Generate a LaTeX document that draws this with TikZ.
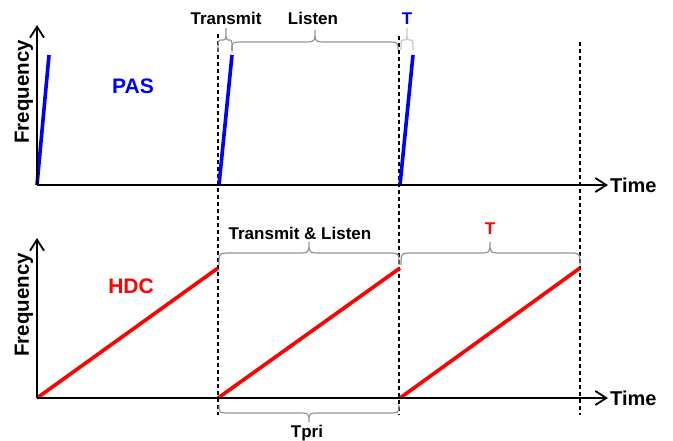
\documentclass[tikz,border=0pt]{standalone}
\usepackage{fontspec}
\setmainfont{Liberation Sans}
\usetikzlibrary{arrows.meta}
\newcommand\mybrace[7][]{% [style] x1 x2 yend yflat xtip ytip
  \draw[#1] (#2,#4) .. controls (#2,#5) .. ({#2+min(12,(#6-#2)/2)},#5)
    -- ({#6-min(12,(#6-#2)/2)},#5) .. controls (#6,#5) .. (#6,#7)
    .. controls (#6,#5) .. ({#6+min(12,(#3-#6)/2)},#5)
    -- ({#3-min(12,(#3-#6)/2)},#5) .. controls (#3,#5) .. (#3,#4);}
\begin{document}
\begin{tikzpicture}[x=1pt,y=-1pt,
  axis/.style={line width=2.3pt,-{Straight Barb[length=11pt,width=14pt,line width=1.8pt]}},
  vdash/.style={line width=1.1pt,dash pattern=on 4pt off 3pt},
  pas/.style={blue,line width=3.6pt},
  hdc/.style={red,line width=3.6pt},
  brc/.style={gray!85,line width=1.2pt},
  lbrc/.style={black!22,line width=1.2pt},
  lab/.style={font=\fontsize{17}{20}\bfseries\selectfont,inner sep=0pt},
  big/.style={font=\fontsize{21}{24}\bfseries\selectfont,inner sep=0pt},
  tim/.style={font=\fontsize{20}{24}\bfseries\selectfont,inner sep=0pt},
  freq/.style={font=\fontsize{20.5}{23}\bfseries\selectfont,inner sep=0pt,rotate=90}]
\useasboundingbox (0,0) rectangle (673,440);
% coordinates
\coordinate (o1) at (37,185); \coordinate (y1) at (37,25); \coordinate (x1) at (608,185);
\coordinate (o2) at (37,398); \coordinate (y2) at (37,238); \coordinate (x2) at (608,398);
% dashed lines
\coordinate (d1t) at (218,34); \coordinate (d1b) at (218,415);
\coordinate (d2t) at (399,36); \coordinate (d2b) at (399,415);
\coordinate (d3t) at (580,42); \coordinate (d3b) at (580,415);
\draw[vdash] (d1t) -- (d1b);
\draw[vdash] (d2t) -- (d2b);
\draw[vdash] (d3t) -- (d3b);
% PAS chirps
\coordinate (p1a) at (37,185); \coordinate (p1b) at (49,55);
\coordinate (p2a) at (219,185); \coordinate (p2b) at (232,55);
\coordinate (p3a) at (400,185); \coordinate (p3b) at (413,55);
\draw[pas] (p1a) -- (p1b);
\draw[pas] (p2a) -- (p2b);
\draw[pas] (p3a) -- (p3b);
% HDC chirps
\coordinate (h1a) at (37,398); \coordinate (h1b) at (218,268);
\coordinate (h2a) at (218,398); \coordinate (h2b) at (400,268);
\coordinate (h3a) at (400,398); \coordinate (h3b) at (580,268);
\draw[hdc] (h1a) -- (h1b);
\draw[hdc] (h2a) -- (h2b);
\draw[hdc] (h3a) -- (h3b);
% axes
\draw[axis] (o1) -- (x1);
\draw[axis] (o1) -- (y1);
\draw[axis] (o2) -- (x2);
\draw[axis] (o2) -- (y2);
% braces
\mybrace[brc]{218}{232}{52}{40}{226}{28}
\mybrace[brc]{232}{398}{50}{42}{315}{30}
\mybrace[lbrc]{401}{413}{50}{40}{407}{28}
\mybrace[brc]{219}{399}{265}{253}{309}{242}
\mybrace[brc]{401}{580}{265}{253}{490}{242}
\mybrace[brc]{219}{399}{405}{413}{309}{422}
% labels
\node[lab] (ltx) at (226,18) {Transmit};
\node[lab] (lli) at (313,18) {Listen};
\node[lab,text=blue] (lt1) at (407,19) {T};
\node[lab] (ltl) at (300,233) {Transmit \& Listen};
\node[lab,text=red] (lt2) at (490,229) {T};
\node[lab,anchor=base] (ltp) at (307,437) {Tpri};
\node[big,text=blue] (lpas) at (133,86) {PAS};
\node[big,text=red] (lhdc) at (131,286) {HDC};
\node[freq] (lf1) at (24,92) {Frequency};
\node[freq] (lf2) at (24,305) {Frequency};
\node[tim,anchor=west] (lti1) at (610,185) {Time};
\node[tim,anchor=west] (lti2) at (610,398) {Time};
\end{tikzpicture}
\end{document}
